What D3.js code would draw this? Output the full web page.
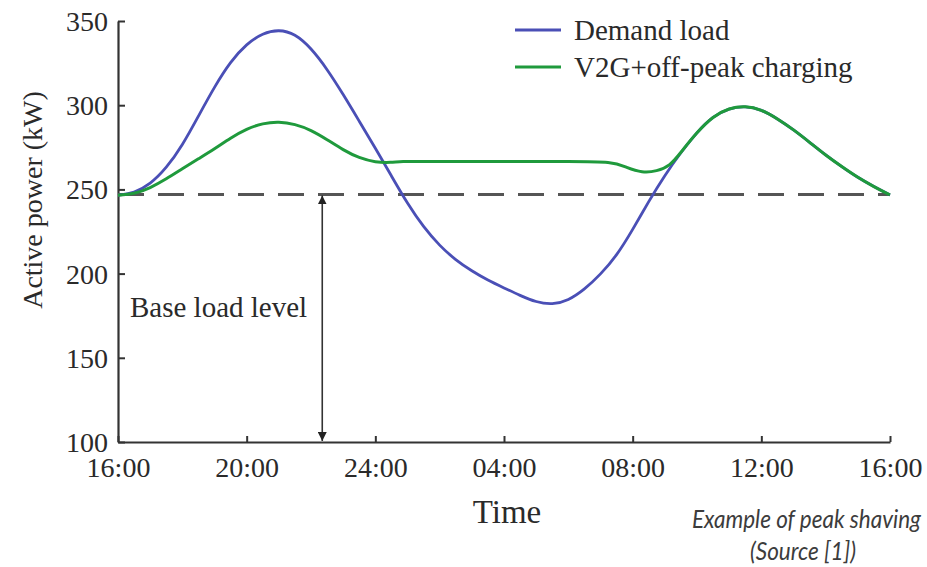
<!DOCTYPE html>
<html>
<head>
<meta charset="utf-8">
<script src="https://cdn.jsdelivr.net/npm/d3@7/dist/d3.min.js"></script>
<style>
  html, body { margin: 0; padding: 0; background: #ffffff; }
  svg { display: block; }
</style>
</head>
<body>
<svg id="chart" width="927" height="567"></svg>
<script>
// Hours elapsed since 16:00, with the load in kW at each hour
const demandHours = [0, 0.5, 1, 1.5, 2, 2.5, 3, 3.5, 4, 4.5, 5, 5.5, 6, 6.5, 7, 7.5, 8, 8.5, 9, 9.5, 10, 10.5, 11, 11.5, 12, 12.5, 13, 13.5, 14, 14.5, 15, 15.5, 16, 16.5, 17, 17.5, 18, 18.5, 19, 19.5, 20, 20.5, 21, 21.5, 22, 22.5, 23, 23.5, 24];
const demandLoad  = [246.5, 247.8, 253, 262.5, 276, 293.5, 311, 326, 336.5, 342.8, 345, 342.5, 334, 321.5, 306.5, 290.5, 274.5, 258, 241.5, 227.5, 216.5, 208, 201.5, 196, 191.5, 187, 183, 181.5, 184, 190.5, 199.5, 210.5, 226, 243, 258.5, 272, 284, 293.5, 298.3, 299.6, 297.5, 292, 285.5, 278, 270.3, 263.5, 257, 251.6, 246.7];

const v2gHours = [0, 0.5, 1, 1.5, 2, 2.5, 3, 3.5, 4, 4.5, 5, 5.5, 6, 6.5, 7, 7.5, 8, 8.5, 8.8, 9.5, 11, 12.5, 14, 15.4, 15.8, 16.3, 16.75, 17.16, 17.5, 18, 18.5, 19, 19.5, 20, 20.5, 21, 21.5, 22, 22.5, 23, 23.5, 24];
const v2gLoad  = [246.5, 247.3, 250.8, 256.2, 262.3, 268.2, 274, 280.6, 286, 289.3, 290.3, 288.8, 285.3, 279.6, 273.4, 268.6, 266.1, 265.9, 266.8, 266.5, 266.5, 266.5, 266.5, 266.5, 263, 259.8, 260.8, 263.9, 272, 284, 293.5, 298.3, 299.6, 297.5, 292, 285.5, 278, 270.3, 263.5, 257, 251.6, 246.7];

const tickHours  = [0, 4, 8, 12, 16, 20, 24];
const tickLabels = ["16:00", "20:00", "24:00", "04:00", "08:00", "12:00", "16:00"];
const powerTicks = [100, 150, 200, 250, 300, 350];

const baseLoad = 247;          // base load level, kW
const arrowHour = 6.35;        // where the base-load arrow stands

const seriesNames  = ["Demand load", "V2G+off-peak charging"];
const seriesColors = ["#4a4fb6", "#1f9a3c"];

const svg = d3.select("#chart");
const serif = "'Liberation Serif', 'Times New Roman', serif";
const axisColor = "#333333";
const textColor = "#2a2a2a";

const x = d3.scaleLinear().domain([0, 24]).range([118, 890]);
const y = d3.scaleLinear().domain([100, 350]).range([442, 21]);

// Axes with inward ticks
const xAxis = d3.axisBottom(x)
  .tickValues(tickHours)
  .tickFormat((d, i) => tickLabels[i])
  .tickSizeInner(-6).tickSizeOuter(0).tickPadding(12);
const yAxis = d3.axisLeft(y)
  .tickValues(powerTicks)
  .tickSizeInner(-7).tickSizeOuter(0).tickPadding(10);

const gx = svg.append("g").attr("transform", `translate(0,${y(100)})`).call(xAxis);
const gy = svg.append("g").attr("transform", `translate(${x(0)},0)`).call(yAxis);

[gx, gy].forEach(g => {
  g.select(".domain").attr("stroke", axisColor).attr("stroke-width", 2.2);
  g.selectAll(".tick line").attr("stroke", axisColor).attr("stroke-width", 2);
  g.selectAll(".tick text")
    .attr("fill", textColor)
    .style("font-family", serif)
    .style("font-size", "28px");
});
gx.selectAll(".tick text").attr("y", 35).attr("dy", null);
gy.selectAll(".tick text").attr("dy", "0.34em");

// Base load dashed line
svg.append("line")
  .attr("x1", x(0)).attr("x2", x(24))
  .attr("y1", y(baseLoad)).attr("y2", y(baseLoad))
  .attr("stroke", "#555555").attr("stroke-width", 3)
  .attr("stroke-dasharray", "26,14");

// Double-headed arrow marking the base load level
const defs = svg.append("defs");
["start", "end"].forEach(k => {
  defs.append("marker")
    .attr("id", "arrow-" + k)
    .attr("viewBox", "0 0 10 10")
    .attr("refX", 10).attr("refY", 5)
    .attr("markerWidth", 9).attr("markerHeight", 9)
    .attr("markerUnits", "userSpaceOnUse")
    .attr("orient", k === "start" ? "auto-start-reverse" : "auto")
    .append("path").attr("d", "M0,0 L10,5 L0,10 z").attr("fill", "#222");
});
svg.append("line")
  .attr("x1", x(arrowHour)).attr("x2", x(arrowHour))
  .attr("y1", y(baseLoad) + 1).attr("y2", y(100) - 1)
  .attr("stroke", "#333").attr("stroke-width", 1.6)
  .attr("marker-start", "url(#arrow-start)")
  .attr("marker-end", "url(#arrow-end)");

svg.append("text")
  .attr("x", 130).attr("y", 317)
  .attr("fill", textColor)
  .style("font-family", serif).style("font-size", "29px")
  .text("Base load level");

// Load curves
const line = d3.line()
  .x(d => x(d[0])).y(d => y(d[1]))
  .curve(d3.curveBasis);

const demand = demandHours.map((h, i) => [h, demandLoad[i]]);
const v2g = v2gHours.map((h, i) => [h, v2gLoad[i]]);

svg.append("path").datum(demand)
  .attr("d", line).attr("fill", "none")
  .attr("stroke", seriesColors[0]).attr("stroke-width", 2.8);
svg.append("path").datum(v2g)
  .attr("d", line).attr("fill", "none")
  .attr("stroke", seriesColors[1]).attr("stroke-width", 3);

// Legend
const legend = svg.append("g");
seriesNames.forEach((name, i) => {
  const ly = 30 + i * 37;
  legend.append("line")
    .attr("x1", 515).attr("x2", 561).attr("y1", ly).attr("y2", ly)
    .attr("stroke", seriesColors[i]).attr("stroke-width", 3);
  legend.append("text")
    .attr("x", 574).attr("y", ly + 10)
    .attr("fill", textColor)
    .style("font-family", serif).style("font-size", "29px")
    .text(name);
});

// Axis titles
svg.append("text")
  .attr("x", 507).attr("y", 523)
  .attr("text-anchor", "middle")
  .attr("fill", textColor)
  .style("font-family", serif).style("font-size", "33px")
  .text("Time");

svg.append("text")
  .attr("transform", "translate(42,200) rotate(-90)")
  .attr("text-anchor", "middle")
  .attr("fill", textColor)
  .style("font-family", serif).style("font-size", "28px")
  .text("Active power (kW)");

// Caption, set in a slightly condensed italic
const caption = svg.append("g")
  .style("font-family", "Lato, 'Open Sans', sans-serif")
  .style("font-style", "italic")
  .style("font-size", "25px")
  .attr("fill", "#3c3c3c");
caption.append("text")
  .attr("transform", "translate(921,528) scale(0.9,1)")
  .attr("text-anchor", "end")
  .text("Example of peak shaving");
caption.append("text")
  .attr("transform", "translate(803,560) scale(0.9,1)")
  .attr("text-anchor", "middle")
  .text("(Source [1])");
</script>
</body>
</html>
